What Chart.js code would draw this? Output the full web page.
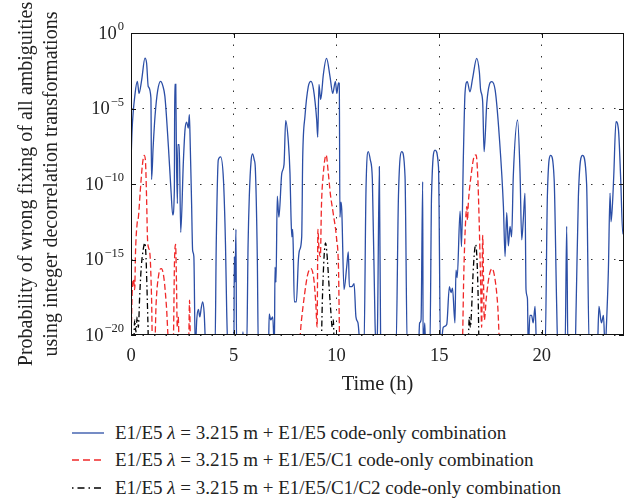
<!DOCTYPE html>
<html>
<head>
<meta charset="utf-8">
<script src="https://cdn.jsdelivr.net/npm/chart.js@4/dist/chart.umd.min.js"></script>
<style>
  body { margin: 0; background: #fff; }
  #wrap { position: relative; width: 635px; height: 503px; }
  #chart { position: absolute; left: 0; top: 0; }
  #legend { position: absolute; left: 0; top: 419px; font-family: "Liberation Serif", serif; font-size: 19px; color: #222; }
  .row { height: 27.5px; display: flex; align-items: center; white-space: nowrap; }
  .row svg { margin-left: 72px; margin-right: 11px; }
</style>
</head>
<body>
<div id="wrap">
  <canvas id="chart" width="635" height="410"></canvas>
  <div id="legend">
    <div class="row"><svg width="32" height="6"><line x1="0" y1="3" x2="32" y2="3" stroke="#2b4ea6" stroke-width="1.3"/></svg>E1/E5 <i>&nbsp;λ</i>&nbsp;= 3.215 m + E1/E5 code-only combination</div>
    <div class="row"><svg width="32" height="6"><line x1="0" y1="3" x2="32" y2="3" stroke="#f02828" stroke-width="1.3" stroke-dasharray="7 4"/></svg>E1/E5 <i>&nbsp;λ</i>&nbsp;= 3.215 m + E1/E5/C1 code-only combination</div>
    <div class="row"><svg width="32" height="6"><line x1="0" y1="3" x2="32" y2="3" stroke="#000" stroke-width="1.3" stroke-dasharray="1.5 4 7 4"/></svg>E1/E5 <i>&nbsp;λ</i>&nbsp;= 3.215 m + E1/E5/C1/C2 code-only combination</div>
  </div>
</div>
<script>
// axis ticks
const xTicks = [0, 5, 10, 15, 20];
const yTickExps = [0, -5, -10, -15, -20];

// values are log10 of the probability (-21 = below the axis)
// E1/E5 code-only
const e5Time = [0.0, 0.05, 0.2, 0.31, 0.39, 0.52, 0.68, 0.76, 0.84, 0.97, 1.0, 1.08, 1.17, 1.3, 1.44, 1.55, 1.65, 1.82, 1.95, 2.03, 2.11, 2.13, 2.18, 2.21, 2.26, 2.28, 2.35, 2.42, 2.55, 2.63, 2.71, 2.79, 2.84, 2.87, 2.95, 3.0, 3.06, 3.13, 3.2, 3.28, 3.35, 3.42, 3.49, 3.56, 3.65,
  4.09, 4.15, 4.25, 4.36, 4.5, 4.6, 4.66, 4.72, 5.01, 5.03, 5.06, 5.08, 5.11, 5.14, 5.4, 5.45, 5.5, 5.63, 5.7, 5.76, 5.85, 5.92, 6.0, 6.05, 6.15, 6.2,
  6.69, 6.73, 6.8, 6.9, 6.98, 7.01, 7.06, 7.12, 7.2, 7.34, 7.45, 7.53, 7.66, 7.74, 7.79, 7.83, 7.87, 7.9, 7.95, 8.05, 8.15, 8.2, 8.31, 8.36, 8.47, 8.63, 8.76, 8.88, 9.04, 9.09, 9.15, 9.23, 9.28, 9.36, 9.52, 9.69, 9.82, 9.95, 10.02, 10.1, 10.14,
  10.17, 10.22, 10.26, 10.37, 10.5, 10.58, 10.63, 10.75, 10.86, 10.95, 11.05, 11.18, 11.34, 11.44, 11.55, 11.65, 11.75, 11.88, 11.95, 12.0, 12.09, 12.15, 12.25, 12.3, 12.37,
  12.9, 13.02, 13.18, 13.34, 13.45, 13.99, 14.05, 14.12, 14.2, 14.22, 14.3, 14.35, 14.55, 14.63, 14.8, 14.97, 15.07, 15.2, 15.37, 15.5, 15.58, 15.65, 15.77, 15.82, 15.88,
  16.02, 16.09, 16.18, 16.26, 16.37, 16.5, 16.63, 16.83, 16.96, 17.02, 17.12, 17.19, 17.32, 17.45, 17.56, 17.73, 17.93, 18.13, 18.21, 18.29, 18.37, 18.45, 18.53, 18.61, 18.82, 18.94,
  19.02, 19.1, 19.18, 19.23, 19.3, 19.34, 19.42, 19.5, 19.58, 19.67, 19.75, 20.16, 20.27, 20.43, 20.6, 20.72, 20.78, 21.13, 21.21, 21.27, 21.62, 21.67, 21.78, 21.98, 22.18, 22.31,
  22.7, 22.78, 22.9, 23.0, 23.08, 23.15, 23.24, 23.32, 23.37, 23.44, 23.5, 23.61, 23.73, 23.84, 23.94, 24.0];
const e5Log = [-8.6, -6.5, -4.0, -3.2, -4.0, -3.1, -1.66, -2.0, -3.55, -4.3, -9.7, -7.5, -5.5, -3.8, -3.2, -3.5, -4.2, -7.5, -10.5, -12.05, -10.4, -3.4, -3.4, -8.0, -11.3, -7.4, -7.4, -13.2, -8.5, -6.4, -5.9, -6.3, -5.4, -6.6, -11.3, -14.4, -14.8, -21, -19, -18.3, -18.8, -18.2, -17.8, -18.5, -21,
  -21, -14, -8.4, -8.2, -9.7, -14, -18.5, -21, -21, -14.8, -16.5, -15.5, -13.0, -21, -21, -19.8, -21, -21, -14, -10.8, -8.4, -8.0, -8.4, -8.9, -15, -21,
  -21, -18.6, -19.0, -18.8, -21, -15.5, -16.5, -10.8, -12.2, -9.3, -8.7, -5.8, -7.2, -9.3, -12.2, -13.5, -13.0, -14.3, -17.8, -17.8, -15.0, -14.4, -13.5, -8.2, -5.5, -3.55, -3.2, -3.7, -5.76, -6.9, -3.4, -4.4, -4.0, -2.8, -1.68, -2.9, -4.0, -3.2, -4.0, -3.3, -3.33,
  -12.2, -11.2, -11.7, -17.0, -15.5, -14.5, -16.8, -16.8, -16.6, -18.8, -19.2, -21, -21, -10.4, -7.86, -8.4, -9.7, -19.2, -21, -19.5, -8.85, -20, -21, -20, -21,
  -21, -10.8, -7.86, -9.5, -21, -21, -19.2, -19, -9.85, -21, -19.2, -21, -21, -10.8, -7.75, -8.9, -21, -19.5, -19.3, -16.8, -17.2, -16.9, -19.2, -15.7, -16.2,
  -11.8, -14.15, -8.2, -4.0, -3.22, -3.9, -3.0, -1.68, -2.6, -3.77, -4.55, -7.86, -4.66, -3.4, -3.22, -3.8, -6.87, -11.5, -14.8, -11.9, -14.1, -12.8, -13.5, -9.5, -5.76, -9.3,
  -13.7, -12.3, -10.6, -17.0, -17.6, -21, -18.7, -18.7, -19.2, -18.1, -21, -21, -10.8, -8.1, -9.7, -17.9, -21, -21, -12.8, -21, -21, -18.1, -10.8, -8.1, -10.0, -21,
  -21, -18.1, -19.2, -18.7, -21, -19.2, -15.7, -10.6, -12.5, -11.3, -9.5, -5.87, -6.4, -9.7, -13.3, -12.8];

// E1/E5/C1 code-only
const c1Time = [0.0, 0.05, 0.12, 0.18, 0.22, 0.3, 0.36, 0.45, 0.55, 0.64, 0.7, 0.76, 0.8, 0.85, 0.92, 1.0, 1.05, 1.15, 1.22, 1.35, 1.48, 1.6, 1.72, 1.86, 2.05, 2.12, 2.17, 2.22, 2.25, 2.3, 2.35, 2.8, 2.85, 2.9,
  8.15, 8.3, 8.45, 8.6, 8.76, 8.9, 9.0, 9.06, 9.1, 9.15, 9.22, 9.27, 9.35, 9.5, 9.6, 9.7, 9.85, 10.0, 10.1, 10.17,
  16.12, 16.2, 16.27, 16.35, 16.38, 16.42, 16.55, 16.7, 16.8, 16.88, 16.95, 17.02, 17.07, 17.12, 17.2, 17.3, 17.45, 17.58, 17.72, 17.85, 17.97, 24.0];
const c1Log = [-21, -17.5, -16.3, -17, -14.5, -12.6, -12.2, -10.5, -8.8, -8.1, -8.4, -11, -13.5, -14.2, -14.6, -17.5, -21, -21, -18, -16, -15.6, -16.2, -18, -21, -21, -15, -14.0, -17, -19.5, -18.8, -21, -21, -17.7, -21,
  -21, -19, -17.3, -16, -15.6, -16.3, -18, -19.5, -13.0, -14.3, -14.8, -11.5, -9.5, -8.08, -9.2, -10.6, -12.0, -13.5, -15.5, -21,
  -21, -16, -13, -11.5, -12.4, -11.3, -9.5, -8.2, -8.08, -9.5, -12.5, -16.5, -19.5, -13.4, -19, -17.5, -16, -15.6, -16.3, -18, -21, -21];

// E1/E5/C1/C2 code-only
const c2Time = [0.0, 0.12, 0.18, 0.24, 0.3, 0.36, 0.42, 0.5, 0.6, 0.67, 0.73, 0.78, 0.82, 0.86,
  9.25, 9.32, 9.4, 9.47, 9.55, 9.63, 9.72, 9.8, 9.85, 9.9,
  16.4, 16.47, 16.52, 16.57, 16.65, 16.72, 16.78, 16.85, 16.9, 16.95, 24.0];
const c2Log = [-21, -21, -19, -19.8, -18.8, -19.5, -17.5, -15.5, -14.3, -13.9, -14.8, -17, -19, -21,
  -21, -17.5, -14.8, -13.9, -14.8, -16.5, -18.3, -19.5, -19.0, -21,
  -21, -18.8, -19.5, -18.6, -16, -14.5, -14.0, -15.2, -17.5, -21, -21];

const FONT = '"Liberation Serif", "Times New Roman", serif';

function toPoints(times, logs) {
  return times.map((t, i) => ({ x: t, y: Math.pow(10, logs[i]) }));
}

// frame, inward ticks and 10^n labels
const framePlugin = {
  id: 'frame',
  afterDraw(chart) {
    const { ctx, chartArea: a, scales: { x, y } } = chart;
    ctx.save();
    ctx.strokeStyle = '#111';
    ctx.lineWidth = 1;
    ctx.strokeRect(a.left + 0.5, a.top + 0.5, a.right - a.left - 1, a.bottom - a.top - 1);
    ctx.beginPath();
    xTicks.forEach(v => {
      const px = Math.round(x.getPixelForValue(v)) + 0.5;
      ctx.moveTo(px, a.bottom); ctx.lineTo(px, a.bottom - 5);
      ctx.moveTo(px, a.top); ctx.lineTo(px, a.top + 5);
    });
    yTickExps.forEach(e => {
      const py = Math.round(y.getPixelForValue(Math.pow(10, e))) + 0.5;
      ctx.moveTo(a.left, py); ctx.lineTo(a.left + 5, py);
      ctx.moveTo(a.right, py); ctx.lineTo(a.right - 5, py);
    });
    ctx.stroke();

    ctx.fillStyle = '#222';
    ctx.textBaseline = 'middle';
    ctx.textAlign = 'right';
    yTickExps.forEach(e => {
      const py = y.getPixelForValue(Math.pow(10, e));
      const sup = e === 0 ? '0' : '\u2212' + (-e);
      ctx.font = '12.5px ' + FONT;
      const sw = ctx.measureText(sup).width;
      ctx.fillText(sup, a.left - 7, py - 6);
      ctx.font = '18.5px ' + FONT;
      ctx.fillText('10', a.left - 8 - sw, py + 1);
    });
    ctx.restore();
  }
};

new Chart(document.getElementById('chart'), {
  type: 'line',
  data: {
    datasets: [
      { label: 'E1/E5/C1/C2', data: toPoints(c2Time, c2Log), borderColor: '#000', borderWidth: 1.3, borderDash: [6, 3, 1.5, 3], order: 1 },
      { label: 'E1/E5/C1', data: toPoints(c1Time, c1Log), borderColor: '#f02828', borderWidth: 1.3, borderDash: [6, 3], order: 2 },
      { label: 'E1/E5', data: toPoints(e5Time, e5Log), borderColor: '#2b4ea6', borderWidth: 1.3, order: 3 }
    ]
  },
  options: {
    responsive: false,
    animation: false,
    parsing: false,
    layout: { padding: { top: 33, right: 11, left: 0, bottom: 0 } },
    elements: {
      point: { radius: 0 },
      line: { cubicInterpolationMode: 'monotone' }
    },
    plugins: { legend: { display: false }, tooltip: { enabled: false } },
    scales: {
      x: {
        type: 'linear',
        min: 0,
        max: 24,
        afterBuildTicks: s => { s.ticks = xTicks.map(v => ({ value: v })); },
        afterFit: s => { s.height = 75; },
        grid: { color: '#333', lineWidth: 1, drawTicks: false },
        border: { display: false, dash: [1.5, 10] },
        ticks: { color: '#222', padding: 10, maxRotation: 0, font: { family: FONT, size: 18.5 } },
        title: { display: true, text: 'Time (h)', color: '#222', padding: { top: 0, bottom: 13 }, font: { family: FONT, size: 20.5 } }
      },
      y: {
        type: 'logarithmic',
        min: 1e-20,
        max: 1,
        afterBuildTicks: s => { s.ticks = yTickExps.map(e => ({ value: Math.pow(10, e) })); },
        afterFit: s => { s.width = 131; },
        grid: { color: '#333', lineWidth: 1, drawTicks: false },
        border: { display: false, dash: [1.5, 10] },
        ticks: { display: false },
        title: {
          display: true,
          text: ['Probability of wrong fixing of all ambiguities', 'using integer decorrelation transformations'],
          color: '#222',
          padding: { top: 14, bottom: 0 },
          font: { family: FONT, size: 20, lineHeight: 1.25 }
        }
      }
    }
  },
  plugins: [framePlugin]
});
</script>
</body>
</html>
